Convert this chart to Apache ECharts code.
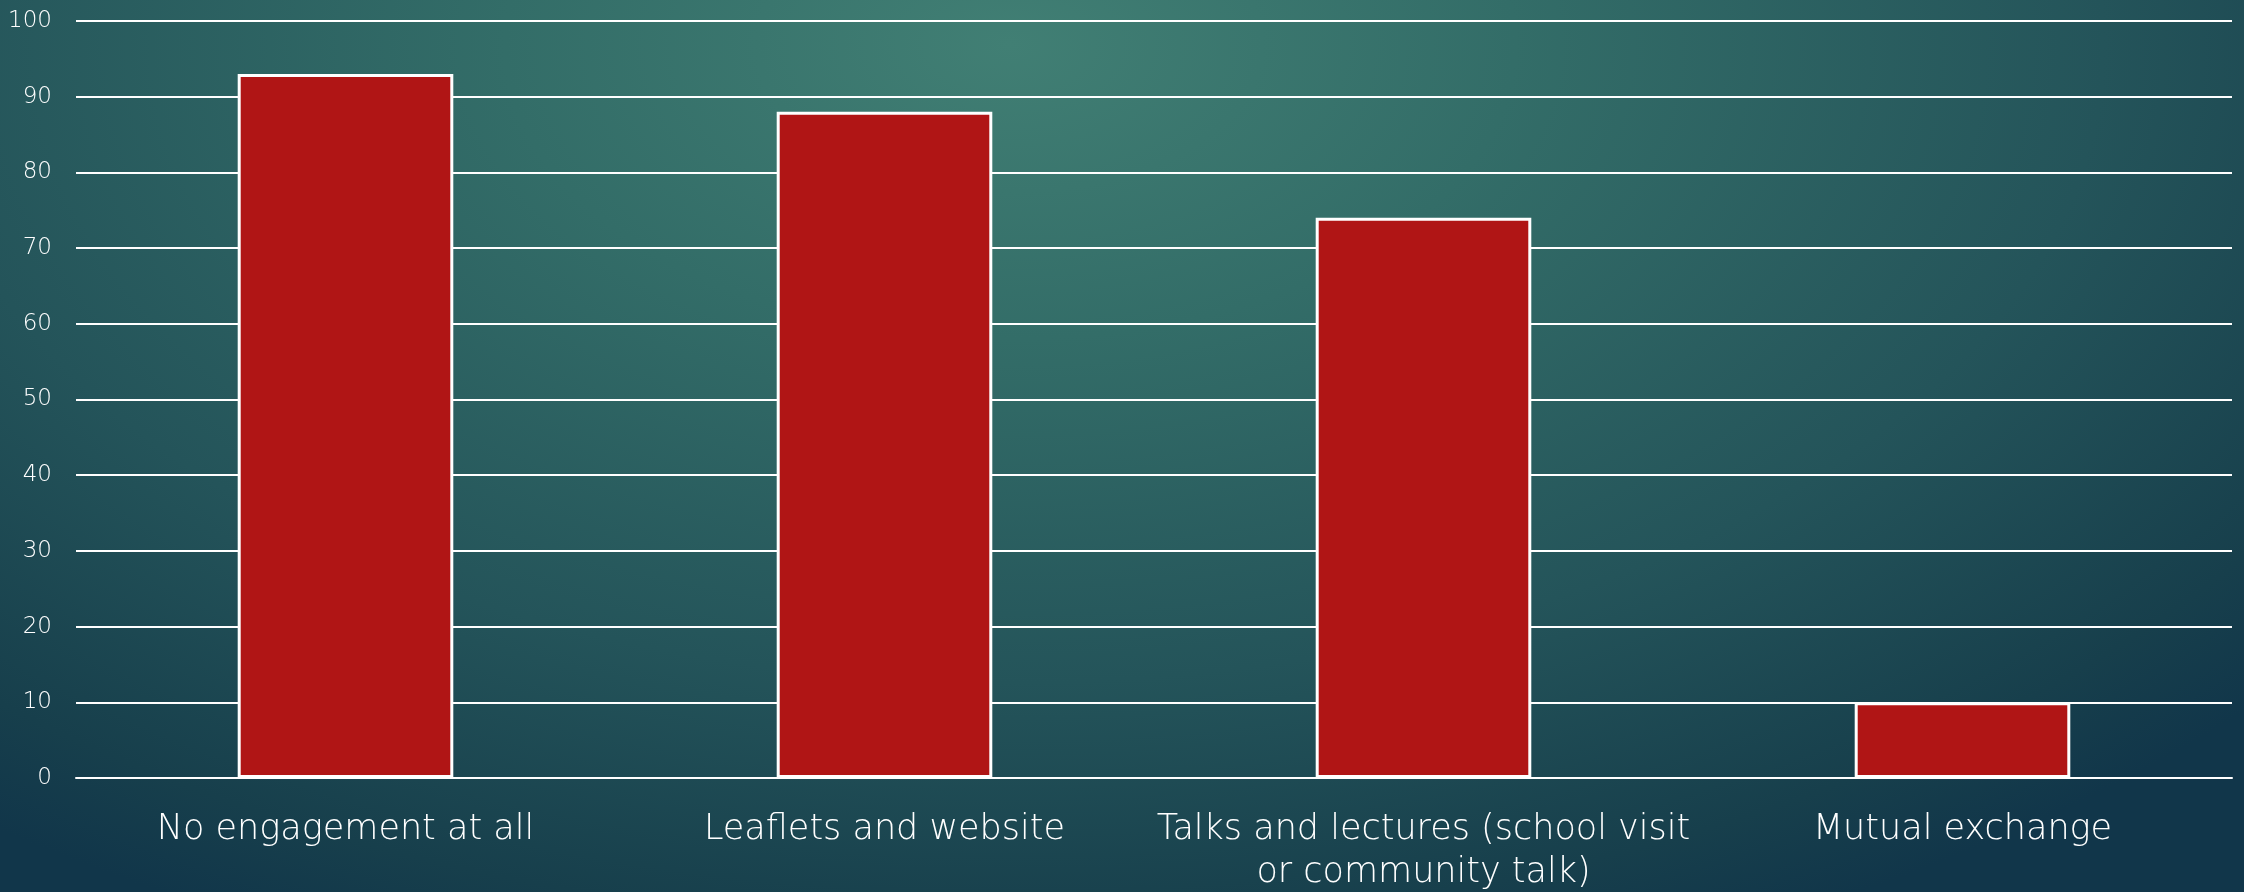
<!DOCTYPE html>
<html>
<head>
<meta charset="utf-8">
<script src="https://cdn.jsdelivr.net/npm/echarts@6/dist/echarts.min.js"></script>
<style>
html,body{margin:0;padding:0;width:2244px;height:892px;overflow:hidden;
background: radial-gradient(ellipse 75% 110% at 45% 5%, #417f74 0%, #336d68 30%, #24545a 65%, #173f4c 90%, #11364a 100%);}
#chart{width:2244px;height:892px;}
</style>
</head>
<body>
<div id="chart"></div>
<script>
const categories = ["No engagement at all", "Leaflets and website", "Talks and lectures (school visit\nor community talk)", "Mutual exchange"];
const values = [93, 88, 74, 10];
const yTicks = {min: 0, max: 100, interval: 10};

const chart = echarts.init(document.getElementById('chart'), null, {renderer: 'canvas'});
chart.setOption({
  backgroundColor: 'transparent',
  animation: false,
  grid: {left: 76, right: 12, top: 21, bottom: 114, containLabel: false, outerBoundsMode: 'none'},
  xAxis: {
    type: 'category',
    data: categories,
    axisLine: {show: true, lineStyle: {color: '#ffffff', width: 2}},
    axisTick: {show: false},
    axisLabel: {
      color: '#ffffff', fontFamily: '"DejaVu Sans"', fontWeight: 200, fontSize: 35,
      lineHeight: 43, margin: 30, interval: 0, align: 'center'
    }
  },
  yAxis: {
    type: 'value',
    min: yTicks.min, max: yTicks.max, interval: yTicks.interval,
    axisLine: {show: false},
    axisTick: {show: false},
    splitLine: {show: true, lineStyle: {color: '#ffffff', width: 2}},
    axisLabel: {color: '#ffffff', fontFamily: '"DejaVu Sans"', fontWeight: 200, fontSize: 23, margin: 24}
  },
  series: [{
    type: 'bar',
    data: values,
    barWidth: '40%',
    itemStyle: {color: '#b01515', borderColor: '#ffffff', borderWidth: 3}
  }]
});
</script>
</body>
</html>
